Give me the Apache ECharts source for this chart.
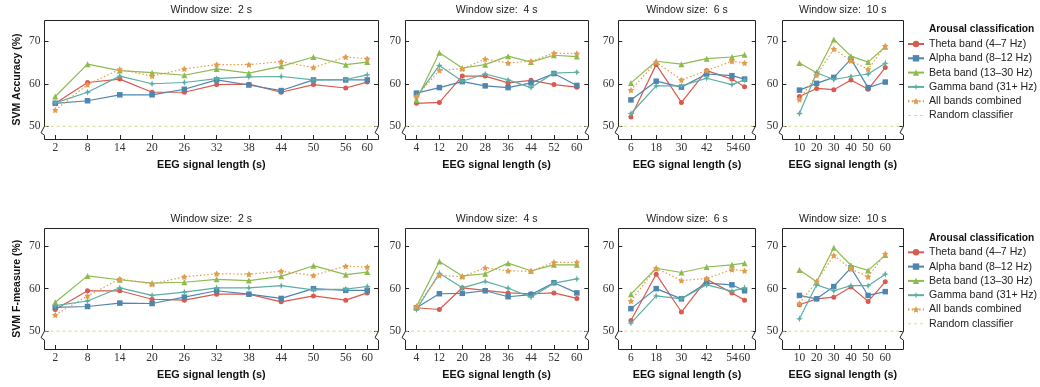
<!DOCTYPE html>
<html><head><meta charset="utf-8">
<script src="https://cdn.jsdelivr.net/npm/echarts@6/dist/echarts.min.js"></script>
<style>html,body{margin:0;padding:0;background:#fff}#c{width:1040px;height:387px}</style>
</head><body><div id="c"></div>
<script>
// ---------------- data ----------------
const bandNames = ['Theta band (4–7 Hz)', 'Alpha band (8–12 Hz)', 'Beta band (13–30 Hz)', 'Gamma band (31+ Hz)', 'All bands combined'];
const randomName = 'Random classifier';
const randomLevel = 50;
const legendTitle = 'Arousal classification';
const windowLabels = ['Window size:  2 s', 'Window size:  4 s', 'Window size:  6 s', 'Window size:  10 s'];
const xAxisName = 'EEG signal length (s)';
const yAxisNames = ['SVM Accuracy (%)', 'SVM F-measure (%)'];
const yTicks = [50, 60, 70];

const xLen2s = [2, 8, 14, 20, 26, 32, 38, 44, 50, 56, 60];
const xLen4s = [4, 12, 20, 28, 36, 44, 52, 60];
const xLen6s = [6, 18, 30, 42, 54, 60];
const xLen10s = [10, 20, 30, 40, 50, 60];

// SVM accuracy
const acc2sTheta = [55.4, 60.3, 61.1, 58.0, 58.0, 59.8, 59.9, 58.0, 59.8, 59.0, 60.4];
const acc2sAlpha = [55.4, 56.0, 57.4, 57.4, 58.7, 60.9, 59.7, 58.4, 60.9, 60.9, 60.9];
const acc2sBeta  = [57.0, 64.6, 63.1, 62.6, 62.0, 63.5, 62.5, 64.1, 66.3, 64.5, 65.1];
const acc2sGamma = [55.5, 58.0, 61.8, 60.0, 60.3, 61.2, 61.6, 61.7, 60.9, 61.0, 62.1];
const acc2sAll   = [53.8, 59.8, 63.4, 61.8, 63.5, 64.5, 64.5, 65.2, 63.8, 66.3, 65.9];

const acc4sTheta = [55.4, 55.6, 61.8, 61.8, 60.2, 60.8, 59.8, 59.2];
const acc4sAlpha = [57.8, 59.1, 60.5, 59.5, 59.1, 60.2, 62.4, 59.6];
const acc4sBeta  = [56.2, 67.3, 63.7, 64.5, 66.5, 65.1, 66.7, 66.4];
const acc4sGamma = [56.9, 64.3, 60.6, 62.3, 60.9, 59.1, 62.5, 62.7];
const acc4sAll   = [57.0, 63.2, 63.5, 65.8, 64.9, 65.3, 67.2, 67.1];

const acc6sTheta = [52.2, 64.5, 55.6, 63.1, 61.1, 59.3];
const acc6sAlpha = [56.2, 60.6, 59.2, 62.3, 61.9, 61.1];
const acc6sBeta  = [60.2, 65.3, 64.6, 65.9, 66.3, 66.8];
const acc6sGamma = [53.0, 59.5, 59.5, 61.3, 59.8, 60.9];
const acc6sAll   = [58.5, 65.1, 60.9, 63.1, 65.3, 64.9];

const acc10sTheta = [57.0, 58.9, 58.6, 60.9, 58.7, 63.8];
const acc10sAlpha = [58.5, 60.1, 61.5, 65.8, 59.1, 60.4];
const acc10sBeta  = [64.9, 62.6, 70.4, 66.5, 65.1, 68.7];
const acc10sGamma = [53.0, 62.6, 61.0, 61.7, 62.3, 64.8];
const acc10sAll   = [56.3, 62.0, 68.2, 65.4, 63.4, 68.9];

// SVM F-measure
const f2sTheta = [55.1, 59.5, 59.5, 57.5, 57.3, 58.7, 58.7, 56.9, 58.3, 57.3, 59.0];
const f2sAlpha = [55.6, 55.8, 56.6, 56.5, 58.0, 59.5, 58.7, 57.7, 60.0, 59.6, 59.6];
const f2sBeta  = [56.8, 63.0, 62.1, 61.3, 61.5, 62.2, 61.9, 62.9, 65.4, 63.3, 63.9];
const f2sGamma = [56.0, 57.1, 60.2, 58.4, 59.2, 60.2, 60.2, 60.7, 59.7, 59.9, 60.5];
const f2sAll   = [53.8, 58.3, 62.3, 61.1, 62.8, 63.5, 63.4, 64.1, 63.1, 65.3, 65.1];

const f4sTheta = [55.5, 55.1, 60.2, 59.6, 59.0, 58.8, 59.0, 57.7];
const f4sAlpha = [55.5, 58.8, 58.9, 59.5, 58.1, 58.6, 61.4, 59.0];
const f4sBeta  = [55.8, 66.4, 63.0, 63.5, 66.0, 64.2, 65.6, 65.6];
const f4sGamma = [55.1, 63.6, 60.2, 61.7, 60.1, 58.0, 61.3, 62.3];
const f4sAll   = [55.8, 63.1, 62.8, 64.9, 64.2, 64.1, 66.2, 66.2];

const f6sTheta = [52.5, 63.4, 54.5, 62.2, 59.0, 57.3];
const f6sAlpha = [55.3, 60.0, 57.6, 61.3, 60.9, 59.5];
const f6sBeta  = [58.7, 64.8, 63.8, 65.1, 65.6, 66.0];
const f6sGamma = [51.9, 58.3, 57.6, 60.9, 59.4, 60.2];
const f6sAll   = [57.1, 64.8, 61.9, 62.4, 64.5, 64.2];

const f10sTheta = [56.2, 57.6, 58.0, 60.4, 57.0, 61.6];
const f10sAlpha = [58.4, 57.6, 60.5, 64.9, 58.4, 59.3];
const f10sBeta  = [64.4, 61.6, 69.6, 65.5, 64.3, 67.9];
const f10sGamma = [52.9, 60.9, 59.5, 60.7, 60.7, 63.4];
const f10sAll   = [56.5, 61.7, 67.8, 64.6, 62.8, 68.2];

// ---------------- layout / style ----------------
const xLengths = [xLen2s, xLen4s, xLen6s, xLen10s];
const rowsData = [
  [[acc2sTheta, acc2sAlpha, acc2sBeta, acc2sGamma, acc2sAll],
   [acc4sTheta, acc4sAlpha, acc4sBeta, acc4sGamma, acc4sAll],
   [acc6sTheta, acc6sAlpha, acc6sBeta, acc6sGamma, acc6sAll],
   [acc10sTheta, acc10sAlpha, acc10sBeta, acc10sGamma, acc10sAll]],
  [[f2sTheta, f2sAlpha, f2sBeta, f2sGamma, f2sAll],
   [f4sTheta, f4sAlpha, f4sBeta, f4sGamma, f4sAll],
   [f6sTheta, f6sAlpha, f6sBeta, f6sGamma, f6sAll],
   [f10sTheta, f10sAlpha, f10sBeta, f10sGamma, f10sAll]]
];

const colL = [44.5, 405, 618.3, 782.3];
const colW = [333.5, 183.3, 137.4, 121];
const xMax = [62, 64, 65.3, 70.5];
const rowTop = [20, 228.3];
const rowH = [119, 120.7];
const yMin = [47, 45.8];
const yMax = [75, 74.2];

const SERIF = '"Liberation Serif", "DejaVu Serif", serif';
const SANS = '"Liberation Sans", Arial, sans-serif';
const colors = ['#d95a4e', '#4f86b0', '#8dbb4e', '#5caea3', '#e39c4d'];
const randomColor = '#d5da8c';
const symbols = ['circle', 'rect', 'triangle',
  'path://M0,-10 L2.6,-2.6 L10,0 L2.6,2.6 L0,10 L-2.6,2.6 L-10,0 L-2.6,-2.6Z',
  'path://M0,-10 L3.2,-4.2 L9.5,-3.1 L5,1.8 L5.9,8.1 L0,5.3 L-5.9,8.1 L-5,1.8 L-9.5,-3.1 L-3.2,-4.2Z'];
const symbolSizes = [5, 5.5, 6, 7, 6.5];

const chart = echarts.init(document.getElementById('c'), null, {renderer: 'canvas'});

const grid = [], xAxis = [], yAxis = [], series = [], texts = [], legends = [];
rowsData.forEach((panels, r) => {
  panels.forEach((bandVals, c) => {
    const gi = r * 4 + c;
    const xs = xLengths[c];
    grid.push({left: colL[c], top: rowTop[r], width: colW[c], height: rowH[r], show: false});
    xAxis.push({
      type: 'value', gridIndex: gi, min: 0, max: xMax[c],
      axisLine: {show: false}, splitLine: {show: false},
      axisTick: {show: true, inside: true, length: 4, customValues: xs, lineStyle: {color: '#222', width: 1}},
      axisLabel: {customValues: xs, margin: 3, fontFamily: SERIF, fontSize: 11.5, color: '#333', hideOverlap: false}
    });
    yAxis.push({
      type: 'value', gridIndex: gi, min: yMin[r], max: yMax[r], position: 'left',
      axisLine: {show: false}, splitLine: {show: false},
      axisTick: {show: true, inside: true, length: 4, customValues: yTicks, lineStyle: {color: '#222', width: 1}},
      axisLabel: {customValues: yTicks, margin: 4, fontFamily: SERIF, fontSize: 11.5, color: '#333'}
    });
    yAxis.push({
      type: 'value', gridIndex: gi, min: yMin[r], max: yMax[r], position: 'right',
      axisLine: {show: false}, splitLine: {show: false},
      axisTick: {show: true, inside: true, length: 4, customValues: yTicks, lineStyle: {color: '#222', width: 1}},
      axisLabel: {show: false}
    });
    series.push({
      type: 'line', name: randomName, xAxisIndex: gi, yAxisIndex: 2 * gi,
      data: [[0, randomLevel], [xMax[c], randomLevel]], symbol: 'none', silent: true, z: 1,
      color: randomColor, lineStyle: {type: [3, 3], color: randomColor, width: 1}
    });
    bandVals.forEach((vals, b) => {
      series.push({
        type: 'line', name: bandNames[b], xAxisIndex: gi, yAxisIndex: 2 * gi,
        data: xs.map((x, i) => [x, vals[i]]),
        symbol: symbols[b], symbolSize: symbolSizes[b], showSymbol: true, showAllSymbol: true,
        color: colors[b], itemStyle: {color: colors[b]},
        lineStyle: {width: 1.2, color: colors[b], type: b === 4 ? [1.5, 2.2] : 'solid'},
        emphasis: {disabled: true}, z: 2 + b
      });
    });
    const cx = colL[c] + colW[c] / 2;
    texts.push({type: 'text', x: cx, y: rowTop[r] - 9.5, silent: true,
      style: {text: windowLabels[c], font: '10.5px ' + SANS, textAlign: 'center', textVerticalAlign: 'middle', fill: '#222'}});
    texts.push({type: 'text', x: cx, y: rowTop[r] + rowH[r] + 26.5, silent: true,
      style: {text: xAxisName, font: 'bold 10.8px ' + SANS, textAlign: 'center', textVerticalAlign: 'middle', fill: '#111'}});
  });
  texts.push({type: 'text', x: 16.7, y: rowTop[r] + rowH[r] / 2, rotation: Math.PI / 2, silent: true,
    style: {text: yAxisNames[r], x: 0, y: 0, font: 'bold 10.5px ' + SANS, textAlign: 'center', textVerticalAlign: 'middle', fill: '#111'}});
  texts.push({type: 'text', x: 929, y: rowTop[r] + 9.4, silent: true,
    style: {text: legendTitle, font: 'bold 10.2px ' + SANS, textAlign: 'left', textVerticalAlign: 'middle', fill: '#111'}});
  legends.push({
    orient: 'vertical', left: 907, top: rowTop[r] + 17, padding: 0,
    itemGap: 0.3, itemWidth: 16, itemHeight: 8, selectedMode: false,
    data: bandNames.concat([{name: randomName, itemStyle: {opacity: 0},
      lineStyle: {type: [3, 3], color: randomColor, width: 1}}]),
    textStyle: {fontFamily: SANS, fontSize: 10.6, lineHeight: 14, color: '#222'}
  });
});

chart.setOption({
  animation: false,
  backgroundColor: '#fff',
  grid, xAxis, yAxis, series, legend: legends,
  graphic: {elements: texts}
});

// frames with axis-break ("crunch") marks, positioned from the axes
const snap = v => Math.round(v - 0.5) + 0.5;
const frames = [];
rowsData.forEach((panels, r) => {
  panels.forEach((_, c) => {
    const gi = r * 4 + c;
    const L = snap(colL[c]), R = snap(colL[c] + colW[c]);
    const T = snap(rowTop[r]), B = snap(rowTop[r] + rowH[r]);
    const y50 = chart.convertToPixel({gridIndex: gi}, [0, randomLevel])[1];
    const crunch = (x, down) => down
      ? [[x, y50], [x - 3.5, y50 + 6.5], [x, y50 + 9]]
      : [[x, y50 + 9], [x - 3.5, y50 + 6.5], [x, y50]];
    const pts = [[L, B]].concat(crunch(L, false), [[L, T], [R, T]], crunch(R, true), [[R, B], [L, B]]);
    frames.push({type: 'polyline', silent: true, z: 10,
      shape: {points: pts}, style: {stroke: '#222', lineWidth: 1, fill: null}});
  });
});
chart.setOption({graphic: {elements: texts.concat(frames)}});
</script></body></html>
